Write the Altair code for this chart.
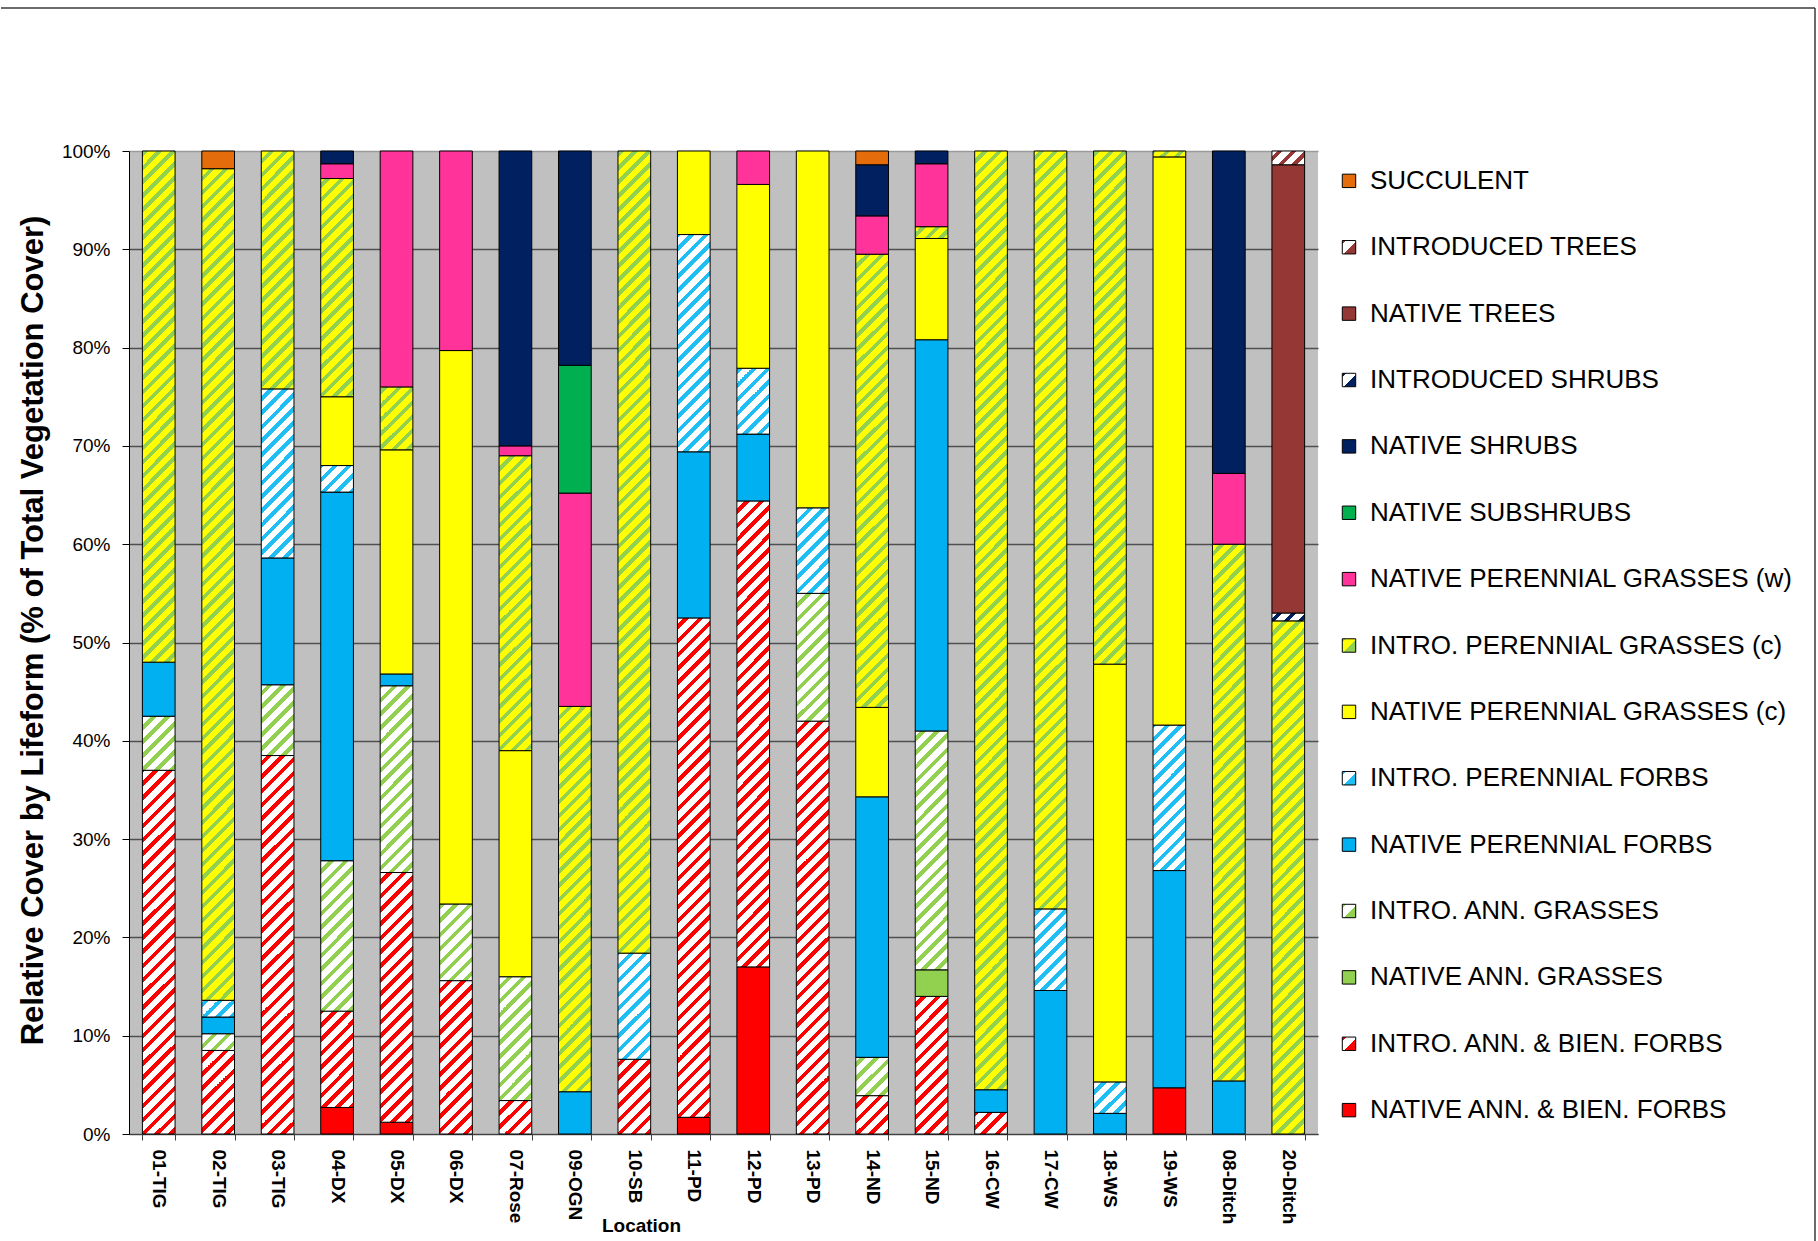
import math
import altair as alt

# ---------------- data ----------------
locations = ["01-TIG", "02-TIG", "03-TIG", "04-DX", "05-DX", "06-DX", "07-Rose",
             "09-OGN", "10-SB", "11-PD", "12-PD", "13-PD", "14-ND", "15-ND",
             "16-CW", "17-CW", "18-WS", "19-WS", "08-Ditch", "20-Ditch"]

native_ann_bien_forbs = [0, 0, 0, 2.7, 1.2, 0, 0, 0, 0, 1.7, 17.0, 0, 0, 0, 0, 0, 0, 4.7, 0, 0]
intro_ann_bien_forbs = [37.0, 8.5, 38.5, 9.8, 25.4, 15.6, 3.4, 0, 7.6, 50.8, 47.4, 42.0, 3.9, 14.0, 2.2, 0, 0, 0, 0, 0]
native_ann_grasses = [0, 0, 0, 0, 0, 0, 0, 0, 0, 0, 0, 0, 0, 2.7, 0, 0, 0, 0, 0, 0]
intro_ann_grasses = [5.5, 1.7, 7.2, 15.3, 19.0, 7.8, 12.6, 0, 0, 0, 0, 13.0, 3.9, 24.3, 0, 0, 0, 0, 0, 0]
native_per_forbs = [5.5, 1.7, 12.9, 37.5, 1.2, 0, 0, 4.3, 0, 16.9, 6.8, 0, 26.5, 39.8, 2.3, 14.6, 2.1, 22.1, 5.4, 0]
intro_per_forbs = [0, 1.7, 17.2, 2.7, 0, 0, 0, 0, 10.8, 22.1, 6.7, 8.7, 0, 0, 0, 8.3, 3.2, 14.8, 0, 0]
native_per_grasses_c = [0, 0, 0, 7.0, 22.8, 56.3, 23.0, 0, 0, 8.5, 18.7, 36.3, 9.1, 10.3, 0, 0, 42.5, 57.8, 0, 0]
intro_per_grasses_c = [52.0, 84.6, 24.2, 22.2, 6.4, 0, 30.0, 39.2, 81.6, 0, 0, 0, 46.1, 1.2, 95.5, 77.1, 52.2, 0.6, 54.6, 52.2]
native_per_grasses_w = [0, 0, 0, 1.5, 24.0, 20.3, 1.0, 21.7, 0, 0, 3.4, 0, 3.9, 6.4, 0, 0, 0, 0, 7.2, 0]
native_subshrubs = [0, 0, 0, 0, 0, 0, 0, 13.0, 0, 0, 0, 0, 0, 0, 0, 0, 0, 0, 0, 0]
native_shrubs = [0, 0, 0, 1.3, 0, 0, 30.0, 21.8, 0, 0, 0, 0, 5.2, 1.3, 0, 0, 0, 0, 32.8, 0]
intro_shrubs = [0, 0, 0, 0, 0, 0, 0, 0, 0, 0, 0, 0, 0, 0, 0, 0, 0, 0, 0, 0.8]
native_trees = [0, 0, 0, 0, 0, 0, 0, 0, 0, 0, 0, 0, 0, 0, 0, 0, 0, 0, 0, 45.6]
intro_trees = [0, 0, 0, 0, 0, 0, 0, 0, 0, 0, 0, 0, 0, 0, 0, 0, 0, 0, 0, 1.4]
succulent = [0, 1.8, 0, 0, 0, 0, 0, 0, 0, 0, 0, 0, 1.4, 0, 0, 0, 0, 0, 0, 0]

# stack order, bottom to top
series_names = ["NATIVE ANN. & BIEN. FORBS", "INTRO. ANN. & BIEN. FORBS", "NATIVE ANN. GRASSES",
                "INTRO. ANN. GRASSES", "NATIVE PERENNIAL FORBS", "INTRO. PERENNIAL FORBS",
                "NATIVE PERENNIAL GRASSES (c)", "INTRO. PERENNIAL GRASSES (c)",
                "NATIVE PERENNIAL GRASSES (w)", "NATIVE SUBSHRUBS", "NATIVE SHRUBS",
                "INTRODUCED SHRUBS", "NATIVE TREES", "INTRODUCED TREES", "SUCCULENT"]
series_values = [native_ann_bien_forbs, intro_ann_bien_forbs, native_ann_grasses, intro_ann_grasses,
                 native_per_forbs, intro_per_forbs, native_per_grasses_c, intro_per_grasses_c,
                 native_per_grasses_w, native_subshrubs, native_shrubs, intro_shrubs,
                 native_trees, intro_trees, succulent]

# ---------------- styling ----------------
# (base colour, stripe colour or None)
styles = {
    "NATIVE ANN. & BIEN. FORBS": ("#FF0000", None),
    "INTRO. ANN. & BIEN. FORBS": ("#FFFFFF", "#FF0000"),
    "NATIVE ANN. GRASSES": ("#92D050", None),
    "INTRO. ANN. GRASSES": ("#FFFFFF", "#92D050"),
    "NATIVE PERENNIAL FORBS": ("#00B0F0", None),
    "INTRO. PERENNIAL FORBS": ("#FFFFFF", "#1FBFF5"),
    "NATIVE PERENNIAL GRASSES (c)": ("#FFFF00", None),
    "INTRO. PERENNIAL GRASSES (c)": ("#FFFF00", "#92D050"),
    "NATIVE PERENNIAL GRASSES (w)": ("#FF3399", None),
    "NATIVE SUBSHRUBS": ("#00B050", None),
    "NATIVE SHRUBS": ("#002060", None),
    "INTRODUCED SHRUBS": ("#FFFFFF", "#002060"),
    "NATIVE TREES": ("#953735", None),
    "INTRODUCED TREES": ("#FFFFFF", "#953735"),
    "SUCCULENT": ("#E46C0A", None),
}

PLOT_W, PLOT_H = 1189, 983
SPACING = 20
PAD_IN, PAD_OUT = 0.45, 0.225
STEP = PLOT_W / (len(locations) - PAD_IN + 2 * PAD_OUT)
BAR_W = STEP * (1 - PAD_IN)
PERIOD = 14.0  # vertical repeat of the hatch, px

# frame of the whole picture, relative to the legend panel origin
FRAME_LEFT = -(PLOT_W + SPACING) - 128
FRAME_RIGHT = 477
FRAME_TOP = -143
FRAME_BOTTOM = 1091


def stripe_gradient(w, h, s0, base, stripe, frac):
    """Linear gradient giving 45-degree '/' stripes on a w x h box."""
    total = w + h
    k = total / (w * w + h * h)
    P = PERIOD

    def color_at(s):
        return stripe if (s % P) < frac * P else base

    bounds = []
    kk = math.floor(s0 / P) - 1
    while kk * P <= s0 + total + P:
        for g in (kk * P, kk * P + frac * P):
            loc = g - s0
            if 0 < loc < total:
                bounds.append(loc)
        kk += 1
    bounds.sort()
    cur = color_at(s0 + 1e-6)
    stops = [(0.0, cur)]
    for b in bounds:
        stops.append((b, cur))
        cur = base if cur == stripe else stripe
        stops.append((b, cur))
    stops.append((total, cur))
    return {"gradient": "linear", "x1": 0, "y1": 0, "x2": round(w * k, 6), "y2": round(h * k, 6),
            "stops": [{"offset": round(p / total, 6), "color": c} for p, c in stops]}


rows = []
for i, loc in enumerate(locations):
    cum = 0.0
    x_left = PAD_OUT * STEP + i * STEP
    for name, vals in zip(series_names, series_values):
        v = vals[i]
        if v <= 0:
            continue
        lo, hi = cum, cum + v
        cum = hi
        base, stripe = styles[name]
        if stripe is None:
            paint = base
        else:
            h = (hi - lo) / 100 * PLOT_H
            y_top = (100 - hi) / 100 * PLOT_H
            frac = 0.36 if base != "#FFFFFF" else 0.42
            paint = stripe_gradient(BAR_W, h, x_left + y_top, base, stripe, frac)
        rows.append({"loc": loc, "series": name, "lo": round(lo, 3), "hi": round(hi, 3), "paint": paint})


def swatch(name):
    base, stripe = styles[name]
    if stripe is None:
        return base
    return {"gradient": "linear", "x1": 0, "y1": 0, "x2": 1, "y2": 1,
            "stops": [{"offset": 0, "color": stripe}, {"offset": 0.14, "color": stripe},
                      {"offset": 0.14, "color": base}, {"offset": 0.55, "color": base},
                      {"offset": 0.55, "color": stripe}, {"offset": 1, "color": stripe}]}


legend_rows = [{"row": j, "label": name, "paint": swatch(name)}
               for j, name in enumerate(reversed(series_names))]

FONT = "Liberation Sans, Arial, sans-serif"
TITLE_FONT = "Liberation Sans Narrow, Arial Narrow, Liberation Sans, sans-serif"

bars = alt.Chart(alt.Data(values=rows)).mark_bar(stroke="black", strokeWidth=1).encode(
    x=alt.X("loc:N", sort=locations,
            scale=alt.Scale(paddingInner=PAD_IN, paddingOuter=PAD_OUT),
            axis=alt.Axis(title="Location", labelAngle=90, labelFont=FONT, labelFontSize=19,
                          labelFontWeight="bold", labelColor="black", labelPadding=9,
                          tickSize=6, tickBand="extent", tickColor="#404040",
                          domainColor="#404040", domainWidth=1.2, grid=False,
                          titleFont=FONT, titleFontSize=19, titleFontWeight="bold",
                          titleColor="black", titleX=512, titleY=91,
                          titleBaseline="middle", titleAlign="center")),
    y=alt.Y("lo:Q", scale=alt.Scale(domain=[0, 100], nice=False),
            axis=alt.Axis(title="Relative Cover by Lifeform (% of Total Vegetation Cover)",
                          values=list(range(0, 101, 10)), labelExpr="datum.value + '%'",
                          labelFont=FONT, labelFontSize=19, labelColor="black", labelPadding=12,
                          tickSize=7, tickColor="black", domainColor="black",
                          grid=True, gridWidth=1.5,
                          gridColor={"condition": {"test": "datum.value === 100", "value": "#9a9a9a"},
                                     "value": "#505050"},
                          titleFont=TITLE_FONT, titleFontSize=31, titleFontWeight="bold",
                          titleColor="black", titleX=-96, titleY=479,
                          titleBaseline="middle", titleAlign="center")),
    y2="hi:Q",
    fill=alt.Fill("paint:N", scale=None),
).properties(width=PLOT_W, height=PLOT_H,
             view=alt.ViewBackground(fill="#C0C0C0", stroke=None))

leg_base = alt.Chart(alt.Data(values=legend_rows))
leg_y = alt.Y("row:O", axis=None, scale=alt.Scale(padding=0.45))
leg_squares = leg_base.mark_square(size=180, stroke="black", strokeWidth=1, opacity=1).encode(
    x=alt.value(11), y=leg_y, fill=alt.Fill("paint:N", scale=None))
leg_text = leg_base.mark_text(align="left", baseline="middle", font=FONT, fontSize=26,
                              color="black").encode(
    x=alt.value(32), y=leg_y, text="label:N")

frame_data = alt.Data(values=[{"k": 0}])
frame_top = alt.Chart(frame_data).mark_rule(color="#3a3a3a", strokeWidth=1.5).encode(
    x=alt.value(FRAME_LEFT), x2=alt.value(FRAME_RIGHT),
    y=alt.value(FRAME_TOP), y2=alt.value(FRAME_TOP))
frame_right = alt.Chart(frame_data).mark_rule(color="#3a3a3a", strokeWidth=1.5).encode(
    x=alt.value(FRAME_RIGHT), x2=alt.value(FRAME_RIGHT),
    y=alt.value(FRAME_TOP), y2=alt.value(FRAME_BOTTOM))

legend = alt.layer(leg_squares, leg_text, frame_top, frame_right).properties(
    width=470, height=989, view=alt.ViewBackground(fill="white", stroke=None))

chart = alt.hconcat(bars, legend, spacing=SPACING, bounds="flush").properties(
    padding={"left": 0, "top": 7, "right": 0, "bottom": 0},
    background="white",
).configure_view(stroke=None)

chart.save("out.html", embed_options={"renderer": "svg", "actions": False})
